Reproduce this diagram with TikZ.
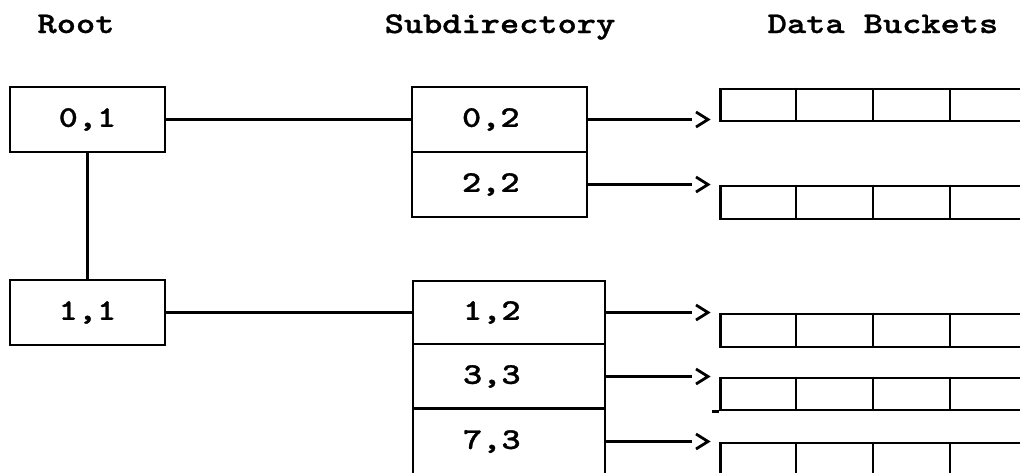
\documentclass[tikz,border=0pt]{standalone}
\usepackage{fontspec}
% wide slab-serif typewriter face: Latin Modern Mono dark, widened
\newfontfamily\typeface[Extension=.otf, FakeStretch=1.22, FakeBold=1]{lmmonolt10-bold}
\usetikzlibrary{calc}
\begin{document}
\begin{tikzpicture}[x=1pt, y=-1pt, line width=2.8pt,
  every node/.style={font=\typeface\fontsize{30}{30}\selectfont},
  box/.style={draw, rectangle, inner sep=0pt, minimum width=155pt, minimum height=65pt},
  subcell/.style={draw, rectangle, inner ysep=0pt, inner xsep=50pt, align=left},
  bucket/.style={draw, rectangle, inner sep=0pt, minimum width=308pt, anchor=north west},
  title/.style={anchor=base},
  chevron/.style={line join=miter, line cap=butt}]
\useasboundingbox (0,0) rectangle (1020,472);
\clip (0,0) rectangle (1020,472);

% column headings
\node[title] (hroot) at (76,33) {Root};
\node[title] (hsub)  at (500,33) {Subdirectory};
\node[title] (hdata) at (883,33) {Data Buckets};

% root entries
\node[box] (r0) at (87.5,119.5) {0,1};
\node[box] (r1) at (87.5,312.5) {1,1};

% subdirectories
\node[subcell, text width=75pt, minimum height=65pt] (s02) at (499.5,119.5) {0,2};
\node[subcell, text width=75pt, minimum height=65pt] (s22) at (499.5,184.5) {2,2};
\node[subcell, text width=92pt, minimum height=63pt] (s12) at (509,312.5) {1,2};
\node[subcell, text width=92pt, minimum height=65pt] (s33) at (509,376.5) {3,3};
\node[subcell, text width=92pt, minimum height=67pt] (s73) at (509,441.5) {7,3};

% data buckets
\node[bucket, minimum height=32pt] (b1) at (719,87.5) {};
\node[bucket, minimum height=33pt] (b2) at (719,184.5) {};
\node[bucket, minimum height=33pt] (b3) at (719,312.5) {};
\node[bucket, minimum height=32pt] (b4) at (719,376.5) {};
\node[bucket, minimum height=34pt] (b5) at (719,441.5) {};
\foreach \b in {b1,b2,b3,b4,b5}
  \foreach \i in {1,2,3}
    \draw ([xshift=\i*77pt]\b.north west) -- ([xshift=\i*77pt]\b.south west);
\draw (b4.south west) -- ++(-7,0);

% root links
\draw (r0.south) -- (r1.north);
\draw (r0.east) -- (s02.west);
\draw (r1.east) -- (s12.west);

% pointers into the buckets
\foreach \s/\b in {s02/b1, s22/b2, s12/b3, s33/b4, s73/b5} {
  \draw[shorten >=27pt] (\s.east) -- (\s.east -| \b.west);
  \coordinate (t\b) at ($(\s.east -| \b.west)+(-11,0)$);
  \draw[chevron] ($(t\b)+(-12,-7.5)$) -- (t\b) -- ($(t\b)+(-12,7.5)$);
}
\end{tikzpicture}
\end{document}
